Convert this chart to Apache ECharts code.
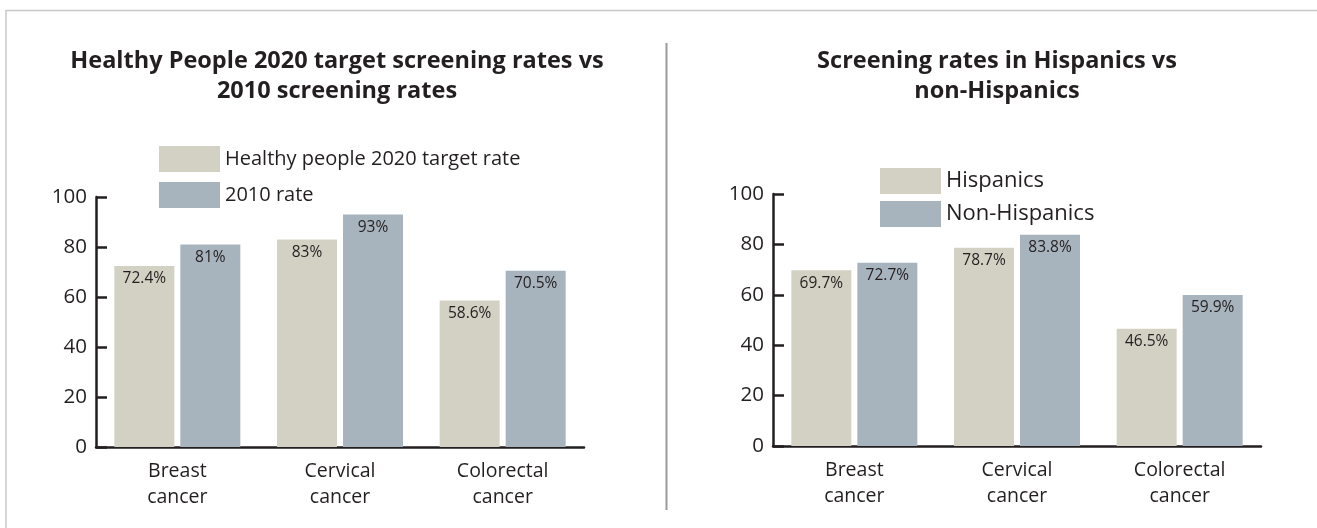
<!DOCTYPE html>
<html>
<head>
<meta charset="utf-8">
<script src="https://cdn.jsdelivr.net/npm/echarts@6/dist/echarts.min.js"></script>
<style>
  html, body { margin: 0; padding: 0; background: #fff; }
  #chart { width: 1317px; height: 528px; }
</style>
</head>
<body>
<div id="chart"></div>
<script>
let categories = ["Breast\ncancer", "Cervical\ncancer", "Colorectal\ncancer"];

let leftTitle = "Healthy People 2020 target screening rates vs\n2010 screening rates";
let leftNames = ["Healthy people 2020 target rate", "2010 rate"];
let target2020 = [72.4, 83, 58.6];
let rate2010 = [81, 93, 70.5];

let rightTitle = "Screening rates in Hispanics vs\nnon-Hispanics";
let rightNames = ["Hispanics", "Non-Hispanics"];
let hispanics = [69.7, 78.7, 46.5];
let nonHispanics = [72.7, 83.8, 59.9];

let tan = "#d3d1c3";
let blue = "#a8b4bd";
let ink = "#231f20";
let font = "'Open Sans', sans-serif";

function xAxisFor(idx) {
    return {
        type: "category",
        gridIndex: idx,
        data: categories,
        axisLine: { lineStyle: { color: ink, width: 2.5 } },
        axisTick: { inside: true, length: 7, lineStyle: { color: ink, width: 2.5 } },
        axisLabel: { color: ink, fontSize: 19.5, lineHeight: 26.5, margin: 11, fontFamily: font }
    };
}

function yAxisFor(idx) {
    return {
        type: "value",
        gridIndex: idx,
        min: 0,
        max: 100,
        interval: 20,
        splitLine: { show: false },
        axisLine: { show: true, lineStyle: { color: ink, width: 2.5 } },
        axisTick: { show: true, inside: true, length: 11, lineStyle: { color: ink, width: 2.5 } },
        axisLabel: { color: ink, fontSize: 20.5, margin: 9, fontFamily: font }
    };
}

function barSeries(name, data, color, idx) {
    return {
        type: "bar",
        name: name,
        xAxisIndex: idx,
        yAxisIndex: idx,
        data: data,
        barWidth: 60,
        barGap: "10%",
        itemStyle: { color: color },
        label: {
            show: true,
            position: "insideTop",
            distance: 5,
            formatter: "{c}%",
            color: ink,
            fontSize: 15.5,
            fontFamily: font
        }
    };
}

var myChart = echarts.init(document.getElementById("chart"));
myChart.setOption({
    animation: false,
    textStyle: { fontFamily: font },
    title: [
        {
            text: leftTitle,
            left: 337,
            top: 46,
            padding: 0,
            textAlign: "center",
            textStyle: { fontSize: 23.5, fontWeight: "bold", color: ink, lineHeight: 30, fontFamily: font }
        },
        {
            text: rightTitle,
            left: 997,
            top: 46,
            padding: 0,
            textAlign: "center",
            textStyle: { fontSize: 23.5, fontWeight: "bold", color: ink, lineHeight: 30, fontFamily: font }
        }
    ],
    legend: [
        {
            data: leftNames,
            orient: "vertical",
            left: 159,
            top: 146,
            padding: 0,
            itemWidth: 61,
            itemHeight: 26,
            itemGap: 10,
            icon: "rect",
            textStyle: { color: ink, fontSize: 20, fontFamily: font }
        },
        {
            data: rightNames,
            orient: "vertical",
            left: 880,
            top: 168,
            padding: 0,
            itemWidth: 61,
            itemHeight: 26,
            itemGap: 7,
            icon: "rect",
            textStyle: { color: ink, fontSize: 22, fontFamily: font }
        }
    ],
    grid: [
        { left: 96, top: 197, width: 488, height: 250 },
        { left: 773, top: 194, width: 488, height: 252 }
    ],
    xAxis: [xAxisFor(0), xAxisFor(1)],
    yAxis: [yAxisFor(0), yAxisFor(1)],
    series: [
        barSeries(leftNames[0], target2020, tan, 0),
        barSeries(leftNames[1], rate2010, blue, 0),
        barSeries(rightNames[0], hispanics, tan, 1),
        barSeries(rightNames[1], nonHispanics, blue, 1)
    ],
    graphic: [
        // outer frame: top and left edges
        { type: "line", shape: { x1: 6, y1: 10.5, x2: 1317, y2: 10.5 }, style: { stroke: "#c8c8c8", lineWidth: 1.5 } },
        { type: "line", shape: { x1: 6, y1: 10, x2: 6, y2: 528 }, style: { stroke: "#c8c8c8", lineWidth: 1.5 } },
        // divider between the two panels
        { type: "line", shape: { x1: 666.5, y1: 43, x2: 666.5, y2: 510 }, style: { stroke: "#9a9a9a", lineWidth: 2 } }
    ]
});
</script>
</body>
</html>
